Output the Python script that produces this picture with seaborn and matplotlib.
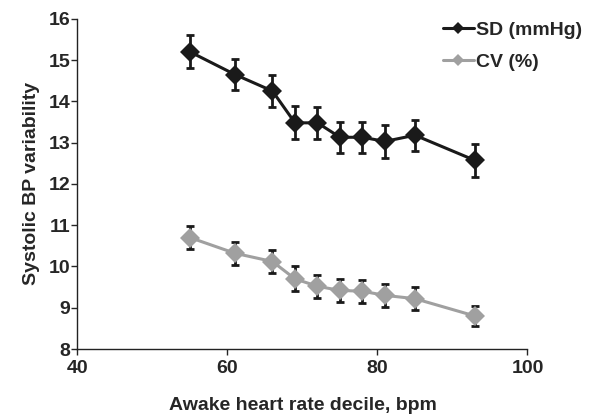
import matplotlib
matplotlib.use("Agg")
import matplotlib.pyplot as plt
import seaborn as sns
import pandas as pd
import numpy as np

heart_rate = [55, 61, 66, 69, 72, 75, 78, 81, 85, 93]
sd_values = [15.2, 14.65, 14.25, 13.48, 13.48, 13.13, 13.13, 13.03, 13.18, 12.57]
sd_err = [0.4, 0.38, 0.38, 0.4, 0.38, 0.38, 0.38, 0.4, 0.38, 0.4]
cv_values = [10.7, 10.32, 10.12, 9.7, 9.52, 9.42, 9.4, 9.3, 9.22, 8.8]
cv_err = [0.28, 0.28, 0.28, 0.3, 0.28, 0.28, 0.28, 0.28, 0.28, 0.25]

sns.set_style("ticks")
plt.rcParams['font.family'] = ['Liberation Sans', 'DejaVu Sans']
plt.rcParams['font.weight'] = 'bold'

df = pd.DataFrame({
    "hr": heart_rate * 2,
    "val": sd_values + cv_values,
    "err": sd_err + cv_err,
    "series": ["SD (mmHg)"] * 10 + ["CV (%)"] * 10,
})

fig, ax = plt.subplots(figsize=(5.96, 4.18), dpi=100)
colors = {"SD (mmHg)": "#1a1a1a", "CV (%)": "#a0a0a0"}

for name, g in df.groupby("series", sort=False):
    ax.errorbar(g["hr"], g["val"], yerr=g["err"], fmt="none", ecolor="#1a1a1a",
                elinewidth=2, capsize=3, capthick=2, zorder=2)

sns.lineplot(data=df, x="hr", y="val", hue="series", palette=colors,
             marker="D", markersize=10, markeredgewidth=0, linewidth=2.2,
             ax=ax, zorder=3, legend=True)

ax.set_xlim(40, 100)
ax.set_ylim(8, 16)
ax.set_xticks([40, 60, 80, 100])
ax.set_yticks(range(8, 17))
ax.tick_params(axis="y", labelsize=14, width=1, length=4, direction="out", pad=1)
ax.tick_params(axis="x", labelsize=14, width=1, length=4, direction="out", pad=4)
for lab in ax.get_xticklabels() + ax.get_yticklabels():
    lab.set_fontweight("bold")
ax.set_xlabel("Awake heart rate decile, bpm", fontsize=14, fontweight="bold", labelpad=14)
ax.set_ylabel("Systolic BP variability", fontsize=14, fontweight="bold", labelpad=6)
sns.despine(ax=ax)
for s in ["left", "bottom"]:
    ax.spines[s].set_linewidth(1)
    ax.spines[s].set_color("#222222")

leg = ax.legend(loc="upper right", bbox_to_anchor=(1.16, 1.045), frameon=False,
                handlelength=1.6, handletextpad=0.1, labelspacing=0.75,
                prop={"weight": "bold", "size": 14})
for h in leg.get_lines():
    h.set_markersize(6)

fig.subplots_adjust(left=0.13, right=0.885, top=0.955, bottom=0.165)
fig.savefig("out.png", dpi=100)
